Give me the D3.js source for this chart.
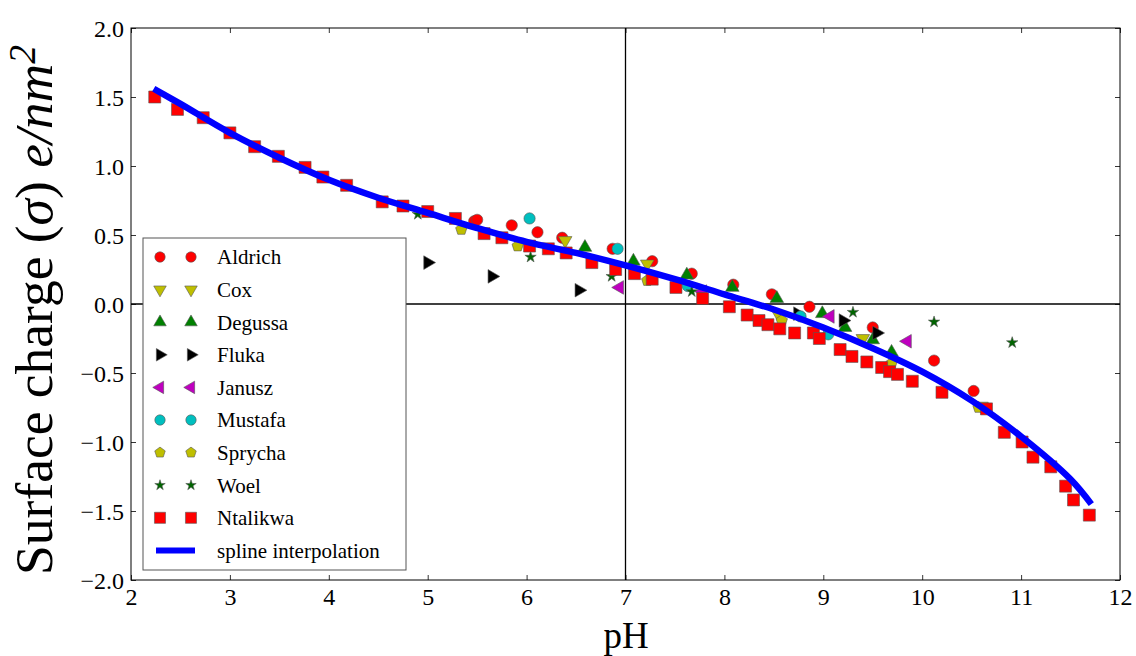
<!DOCTYPE html>
<html><head><meta charset="utf-8">
<script src="https://cdn.jsdelivr.net/npm/d3@7"></script>
<style>
body{margin:0;background:#fff}
svg{display:block}
svg text, svg tspan{font-family:"Liberation Serif",serif !important;fill:#000}
</style>
</head><body>
<svg id="chart" width="1136" height="656" font-family="Liberation Serif"></svg>
<script>
// ---------------- data ----------------
const xTicks = [2,3,4,5,6,7,8,9,10,11,12];
const yTicks = [2.0,1.5,1.0,0.5,0.0,-0.5,-1.0,-1.5,-2.0];
const seriesNames = ["Aldrich","Cox","Degussa","Fluka","Janusz","Mustafa","Sprycha","Woel","Ntalikwa"];

const aldrich = [[5.47,0.60],[5.50,0.61],[5.85,0.57],[6.11,0.52],[6.36,0.48],[6.87,0.40],[7.27,0.31],[7.67,0.22],[8.09,0.14],[8.48,0.07],[8.86,-0.02],[9.50,-0.17],[10.12,-0.41],[10.52,-0.63]];
const cox = [[6.39,0.46],[7.22,0.29],[8.55,-0.08],[9.40,-0.25],[10.60,-0.74]];
const degussa = [[6.59,0.41],[7.08,0.31],[7.62,0.21],[8.08,0.12],[8.53,0.04],[8.99,-0.07],[9.22,-0.17],[9.50,-0.26],[9.69,-0.35]];
const fluka = [[5.00,0.30],[5.65,0.20],[6.53,0.10],[8.74,-0.07],[9.20,-0.12],[9.54,-0.21]];
const janusz = [[6.94,0.12],[7.78,0.09],[9.07,-0.09],[9.85,-0.27]];
const mustafa = [[6.03,0.62],[6.92,0.40],[7.63,0.13],[8.77,-0.09],[9.05,-0.22]];
const sprycha = [[5.34,0.54],[5.91,0.42],[7.22,0.17],[8.58,-0.12],[9.69,-0.43],[10.57,-0.75]];
const woel = [[4.90,0.65],[6.04,0.34],[6.86,0.20],[7.67,0.09],[9.30,-0.06],[10.12,-0.13],[10.91,-0.28]];
const ntalikwa = [[2.24,1.50],[2.47,1.41],[2.73,1.35],[3.00,1.24],[3.25,1.14],[3.49,1.07],[3.76,0.99],[3.94,0.92],[4.18,0.86],[4.54,0.74],[4.75,0.71],[5.00,0.67],[5.28,0.62],[5.57,0.51],[5.75,0.48],[6.03,0.42],[6.22,0.40],[6.40,0.37],[6.66,0.30],[6.90,0.25],[7.09,0.22],[7.27,0.18],[7.51,0.12],[7.78,0.04],[8.05,-0.02],[8.23,-0.08],[8.35,-0.12],[8.44,-0.15],[8.56,-0.18],[8.71,-0.21],[8.90,-0.21],[8.96,-0.25],[9.17,-0.33],[9.29,-0.38],[9.44,-0.42],[9.59,-0.46],[9.67,-0.49],[9.75,-0.51],[9.90,-0.56],[10.20,-0.64],[10.65,-0.76],[10.83,-0.93],[11.01,-1.00],[11.12,-1.11],[11.30,-1.18],[11.45,-1.32],[11.53,-1.42],[11.69,-1.53]];
const splineX = [2.23,2.5,3.0,3.5,4.0,4.5,5.0,5.5,6.0,6.5,7.0,7.5,8.0,8.5,9.0,9.5,10.0,10.5,11.0,11.5,11.71];
const splineY = [1.56,1.45,1.24,1.06,0.90,0.77,0.66,0.55,0.45,0.37,0.28,0.18,0.07,-0.04,-0.17,-0.32,-0.49,-0.70,-0.96,-1.27,-1.45];

// ---------------- layout ----------------
const FONT = '"Liberation Serif", serif';
const svg = d3.select("#chart");
const L=131, R=1120, T=28, B=580;
const x = d3.scaleLinear().domain([2,12]).range([L,R]);
const y = d3.scaleLinear().domain([-2,2]).range([B,T]);

const pentagon = {draw(ctx,size){const r=Math.sqrt(size/2.378);for(let k=0;k<5;k++){const a=-Math.PI/2+k*2*Math.PI/5;const px=r*Math.cos(a),py=r*Math.sin(a);k?ctx.lineTo(px,py):ctx.moveTo(px,py);}ctx.closePath();}};
const styles = {
  Aldrich:{type:d3.symbolCircle,size:100,rot:0,color:"#ff0000",data:aldrich},
  Cox:{type:d3.symbolTriangle,size:80,rot:180,color:"#bfbf00",data:cox},
  Degussa:{type:d3.symbolTriangle,size:80,rot:0,color:"#008000",data:degussa},
  Fluka:{type:d3.symbolTriangle,size:80,rot:90,color:"#000000",data:fluka},
  Janusz:{type:d3.symbolTriangle,size:80,rot:-90,color:"#bf00bf",data:janusz},
  Mustafa:{type:d3.symbolCircle,size:100,rot:0,color:"#00bfbf",data:mustafa},
  Sprycha:{type:pentagon,size:85,rot:0,color:"#bfbf00",data:sprycha},
  Woel:{type:d3.symbolStar,size:40,rot:0,color:"#006400",data:woel},
  Ntalikwa:{type:d3.symbolSquare,size:144,rot:0,color:"#ff0000",data:ntalikwa}
};

svg.append("line").attr("x1",x(7)).attr("x2",x(7)).attr("y1",T).attr("y2",B).attr("stroke","#000").attr("stroke-width",1.3);
svg.append("line").attr("x1",L).attr("x2",R).attr("y1",y(0)).attr("y2",y(0)).attr("stroke","#000").attr("stroke-width",1.3);

const tick=5;
const gx = svg.append("g").attr("transform",`translate(0,${B})`)
  .call(d3.axisBottom(x).tickValues(xTicks).tickFormat(d3.format("d")).tickSizeInner(-tick).tickSizeOuter(0).tickPadding(8));
const gxt = svg.append("g").attr("transform",`translate(0,${T})`)
  .call(d3.axisTop(x).tickValues(xTicks).tickFormat("").tickSizeInner(-tick).tickSizeOuter(0));
const gy = svg.append("g").attr("transform",`translate(${L},0)`)
  .call(d3.axisLeft(y).tickValues(yTicks).tickFormat(d3.format(".1f")).tickSizeInner(-tick).tickSizeOuter(0).tickPadding(7));
const gyr = svg.append("g").attr("transform",`translate(${R},0)`)
  .call(d3.axisRight(y).tickValues(yTicks).tickFormat("").tickSizeInner(-tick).tickSizeOuter(0));
[gx,gxt,gy,gyr].forEach(g=>{
  g.attr("font-family",FONT).attr("font-size",24);
  g.select(".domain").remove();
  g.selectAll("line").attr("stroke","#000").attr("stroke-width",0.8);
  g.selectAll("text").attr("font-family",FONT).attr("font-size",24).attr("fill","#000");
});
gy.selectAll("text").attr("dy","0.35em");

seriesNames.forEach(name=>{
  const s=styles[name];
  const sym=d3.symbol().type(s.type).size(s.size);
  svg.append("g").selectAll("path").data(s.data).join("path")
    .attr("d",sym)
    .attr("transform",d=>`translate(${x(d[0])},${y(d[1])}) rotate(${s.rot})`)
    .attr("fill",s.color).attr("stroke","#555").attr("stroke-width",0.6);
});

const splinePts = splineX.map((v,i)=>[v,splineY[i]]);
svg.append("path").datum(splinePts)
  .attr("d",d3.line().x(d=>x(d[0])).y(d=>y(d[1])).curve(d3.curveCatmullRom.alpha(0.5)))
  .attr("fill","none").attr("stroke","#0000ff").attr("stroke-width",6.5);

svg.append("rect").attr("x",L).attr("y",T).attr("width",R-L).attr("height",B-T).attr("fill","none").attr("stroke","#000").attr("stroke-width",1);

const lg = svg.append("g").attr("font-family",FONT);
lg.append("rect").attr("x",143).attr("y",238).attr("width",263).attr("height",332).attr("fill","#fff").attr("stroke","#555").attr("stroke-width",1);
const row0=257, rowH=32.6;
seriesNames.forEach((name,i)=>{
  const s=styles[name];
  const sym=d3.symbol().type(s.type).size(s.size*0.85);
  [160,191].forEach(cx=>{
    lg.append("path").attr("d",sym).attr("transform",`translate(${cx},${row0+i*rowH}) rotate(${s.rot})`)
      .attr("fill",s.color).attr("stroke","#555").attr("stroke-width",0.6);
  });
  lg.append("text").attr("x",217).attr("y",row0+i*rowH).attr("dy","0.35em").attr("font-family",FONT).attr("font-size",21).text(name);
});
const ly=row0+9*rowH;
lg.append("line").attr("x1",156).attr("x2",195).attr("y1",ly).attr("y2",ly).attr("stroke","#0000ff").attr("stroke-width",6);
lg.append("text").attr("x",217).attr("y",ly).attr("dy","0.35em").attr("font-family",FONT).attr("font-size",21).text("spline interpolation");

svg.append("text").attr("x",626).attr("y",648).attr("text-anchor","middle").attr("font-family",FONT).attr("font-size",37).text("pH");
const yl = svg.append("text").attr("transform","translate(52,310) rotate(-90)").attr("text-anchor","middle").attr("font-family",FONT).attr("font-size",40);
yl.append("tspan").text("Surface charge (");
yl.append("tspan").attr("font-style","italic").text("σ");
yl.append("tspan").text(") ");
yl.append("tspan").attr("font-style","italic").text("e/nm");
const sup = yl.append("tspan").attr("dy","-0.45em").attr("font-size",28).attr("font-style","italic").text("2");
const len = yl.node().getComputedTextLength();
const fs = 40*530/len;
yl.attr("font-size",fs);
sup.attr("font-size",fs*0.7);
</script>
</body></html>
